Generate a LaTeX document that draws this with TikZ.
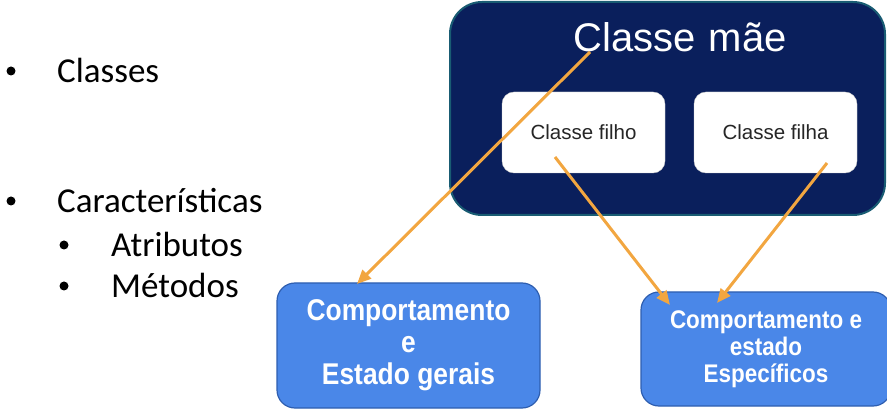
\documentclass[tikz,border=0pt]{standalone}
\usepackage{fontspec}
\setmainfont{Carlito}
\newfontfamily\arialfont{Liberation Sans}
\newfontfamily\boxfont[FakeStretch=0.88]{Liberation Sans}
\usetikzlibrary{positioning}
\usetikzlibrary{calc}
\usetikzlibrary{arrows.meta}
\definecolor{navy}{rgb}{0.04,0.12,0.36}
\definecolor{navyline}{rgb}{0.10,0.36,0.45}
\definecolor{boxblue}{rgb}{0.29,0.53,0.91}
\definecolor{boxline}{rgb}{0.18,0.37,0.69}
\definecolor{arroworange}{rgb}{0.95,0.65,0.25}

\begin{document}
\begin{tikzpicture}
    [x=1pt, y=-1pt,
    dot/.style={circle, fill=black, inner sep=0pt, minimum size=9pt},
    item/.style={anchor=base west, inner sep=0pt, font=\fontsize{35}{40}\selectfont},
    mother/.style={rounded corners=32pt, fill=navy, draw=navyline, line width=2pt, minimum width=435pt, minimum height=213pt},
    child/.style={rounded corners=12pt, fill=white, draw=gray!40, minimum width=163pt, minimum height=81pt, text=black!85, font=\arialfont\fontsize{20.5}{24}\selectfont},
    behaviour/.style={rounded corners=18pt, fill=boxblue, draw=boxline, line width=1.2pt, text=white, align=center},
    inherit/.style={-{Triangle[length=14pt,width=12pt]}, draw=arroworange, line width=3pt}]
    \useasboundingbox (0,0) rectangle (887,414);
    % left list
    \node[dot]  (b1) at (11, 71)  {};
    \node[item] (classes) at (57, 83)  {Classes};
    \node[dot]  (b2) at (11, 201)  {};
    \node[item] (carac) at (57, 213)  {Características};
    \node[dot]  (b3) at (64, 245)  {};
    \node[item] (atrib) at (111, 257)  {Atributos};
    \node[dot]  (b4) at (64, 286)  {};
    \node[item] (metod) at (111, 298)  {Métodos};
    % classes
    \node[mother] (M) at (667.5, 108.5)  {};
    \node[text=white, font=\arialfont\fontsize{40}{46}\selectfont] (mae) at (680, 37)  {Classe\,\,mãe};
    \node[child]    (filho) at (583.5, 132.5)  {Classe filho};
    \node[child]    (filha) at (775.5, 132.5)  {Classe filha};
    % behaviour boxes
    \node[behaviour, minimum width=263pt, minimum height=125pt, font=\boxfont\bfseries\fontsize{30}{32}\selectfont] (gerais) at (408.5, 345.5)  {Comportamento\\e\\Estado gerais};
    \node[behaviour, minimum width=250pt, minimum height=114pt, font=\boxfont\bfseries\fontsize{25.5}{27}\selectfont] (esp) at (766, 349)  {Comportamento e\\estado\\Específicos};
    % arrows
    \draw[inherit] ($(mae.center)+(-90,15)$) -- ($(gerais.center)+(-51.5,-61.5)$);
    \draw[inherit] ($(filho.center)+(-28.5,24.5)$) -- ($(esp.center)+(-96,-44)$);
    \draw[inherit] ($(filha.center)+(51.5,30.5)$) -- ($(esp.center)+(-49,-46)$);
\end{tikzpicture}
\end{document}
